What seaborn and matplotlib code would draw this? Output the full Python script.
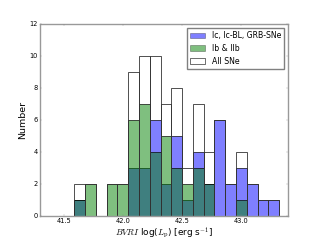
import matplotlib

matplotlib.use("Agg")
import matplotlib.pyplot as plt
import numpy as np
import pandas as pd
import seaborn as sns
from matplotlib.patches import Patch

# bin edges of the luminosity histogram, log(L_p) in erg/s
bin_edges = list(np.linspace(41.59, 43.325, 20))

# counts per bin
ic_counts = [1, 0, 0, 0, 0, 3, 3, 6, 2, 5, 1, 4, 2, 6, 2, 3, 2, 1, 1]
ib_counts = [1, 2, 0, 2, 2, 6, 7, 4, 5, 3, 2, 3, 2, 0, 0, 1, 0, 0, 0]
all_counts = [a + b for a, b in zip(ic_counts, ib_counts)]

labels = ["Ic, Ic-BL, GRB-SNe", "Ib & IIb", "All SNe"]

plt.style.use("classic")
plt.rcParams["font.family"] = ["DejaVu Sans"]
plt.rcParams["mathtext.fontset"] = "cm"

centers = [0.5 * (lo + hi) for lo, hi in zip(bin_edges[:-1], bin_edges[1:])]
df = pd.DataFrame({"lum": centers, "ic": ic_counts, "ib": ib_counts, "all": all_counts})

fig, ax = plt.subplots(figsize=(8, 6), dpi=40)
fig.patch.set_facecolor("white")

sns.histplot(data=df, x="lum", weights="ic", bins=bin_edges, color="blue", alpha=0.5,
             edgecolor="black", linewidth=1.2, ax=ax)
sns.histplot(data=df, x="lum", weights="ib", bins=bin_edges, color="green", alpha=0.5,
             edgecolor="black", linewidth=1.2, ax=ax)
sns.histplot(data=df, x="lum", weights="all", bins=bin_edges, fill=False, color="0.2",
             linewidth=1.5, ax=ax)

ax.set_xlim(41.3, 43.4)
ax.set_ylim(0, 12)
ax.set_xticks([41.5, 42.0, 42.5, 43.0])
ax.set_yticks(range(0, 13, 2))
ax.tick_params(labelsize=12, color="0.5")
for spine in ax.spines.values():
    spine.set_color("0.6")
    spine.set_linewidth(2.5)
ax.set_xlabel(r"$BVRI$ log($L_{\rm p}$) [erg s$^{-1}$]", fontsize=16, labelpad=2)
ax.set_ylabel("Number", fontsize=17)

handles = [
    Patch(facecolor="blue", edgecolor="black", alpha=0.5),
    Patch(facecolor="green", edgecolor="black", alpha=0.5),
    Patch(facecolor="white", edgecolor="black"),
]
leg = ax.legend(handles, labels, loc="upper right", fontsize=14)
leg.get_frame().set_edgecolor("0.5")
leg.get_frame().set_linewidth(2.5)

fig.savefig("out.png", dpi=40, facecolor="white")
